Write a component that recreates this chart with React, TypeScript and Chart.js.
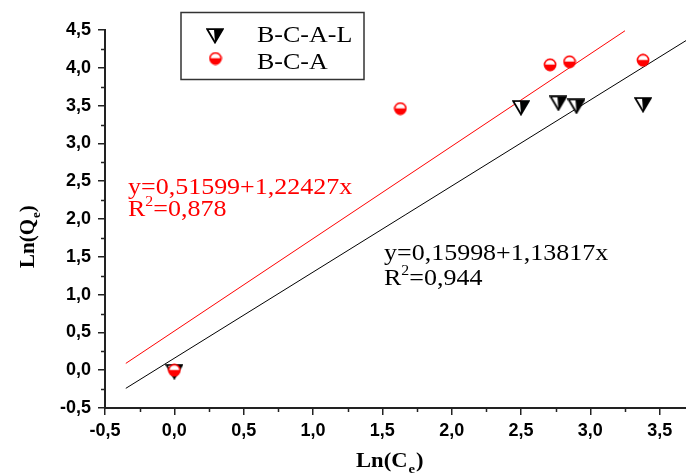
import React, { useEffect, useRef } from 'react';
import { Chart, registerables } from 'chart.js';

Chart.register(...registerables);

// ---- Data ----
const bcalX = [0, 2.5, 2.77, 2.9, 3.38];
const bcalY = [-0.02, 3.47, 3.53, 3.49, 3.51];
const bcaX = [0, 1.63, 2.71, 2.85, 3.38];
const bcaY = [0.0, 3.46, 4.04, 4.08, 4.1];
const fitBcaX = [-0.35, 3.25];
const fitBcaY = [0.09, 4.49];
const fitBcalX = [-0.35, 3.69];
const fitBcalY = [-0.24, 4.36];
const xTicks = [-0.5, 0, 0.5, 1, 1.5, 2, 2.5, 3, 3.5];
const yTicks = [-0.5, 0, 0.5, 1, 1.5, 2, 2.5, 3, 3.5, 4, 4.5];
const xMinor = [-0.25, 0.25, 0.75, 1.25, 1.75, 2.25, 2.75, 3.25];
const yMinor = [-0.25, 0.25, 0.75, 1.25, 1.75, 2.25, 2.75, 3.25, 3.75, 4.25];
const seriesNames = ['B-C-A-L', 'B-C-A'];
const fitRed = ['y=0,51599+1,22427x', '=0,878'];
const fitBlack = ['y=0,15998+1,13817x', '=0,944'];
const xTitle = ['Ln(C', 'e', ')'];
const yTitle = ['Ln(Q', 'e', ')'];

const SERIF = "'Liberation Serif', 'Times New Roman', serif";
const SX = 1.13;

function makeTriangle(): HTMLCanvasElement {
  const c = document.createElement('canvas');
  c.width = 18;
  c.height = 16;
  const ctx = c.getContext('2d')!;
  const l = 1.2, r = 16.8, t = 1.2, b = 14.5, m = 9;
  ctx.beginPath();
  ctx.moveTo(l, t); ctx.lineTo(r, t); ctx.lineTo(m, b); ctx.closePath();
  ctx.fillStyle = '#fff';
  ctx.fill();
  ctx.beginPath();
  ctx.moveTo(m - 1, t); ctx.lineTo(r, t); ctx.lineTo(m, b); ctx.closePath();
  ctx.fillStyle = '#000';
  ctx.fill();
  ctx.beginPath();
  ctx.moveTo(l, t); ctx.lineTo(r, t); ctx.lineTo(m, b); ctx.closePath();
  ctx.lineWidth = 1.8;
  ctx.lineJoin = 'miter';
  ctx.strokeStyle = '#000';
  ctx.stroke();
  return c;
}

function makeCircle(): HTMLCanvasElement {
  const c = document.createElement('canvas');
  c.width = 14;
  c.height = 14;
  const ctx = c.getContext('2d')!;
  const cx = 7, cy = 7, rr = 5.6;
  ctx.beginPath();
  ctx.arc(cx, cy, rr, 0, Math.PI * 2);
  ctx.fillStyle = '#fff';
  ctx.fill();
  ctx.beginPath();
  ctx.arc(cx, cy, rr, -0.05, Math.PI + 0.05);
  ctx.closePath();
  ctx.fillStyle = '#ff0000';
  ctx.fill();
  ctx.beginPath();
  ctx.arc(cx, cy, rr, 0, Math.PI * 2);
  ctx.lineWidth = 1.6;
  ctx.strokeStyle = '#ff0000';
  ctx.stroke();
  return c;
}

function stretchText(ctx: CanvasRenderingContext2D, text: string, x: number, y: number, font: string, color: string, sx: number): number {
  ctx.save();
  ctx.font = font;
  ctx.fillStyle = color;
  ctx.textAlign = 'left';
  ctx.textBaseline = 'alphabetic';
  ctx.translate(x, y);
  ctx.scale(sx, 1);
  ctx.fillText(text, 0, 0);
  const w = ctx.measureText(text).width * sx;
  ctx.restore();
  return w;
}

function drawEquation(ctx: CanvasRenderingContext2D, lines: string[], x: number, y1: number, y2: number, color: string) {
  const f = `23px ${SERIF}`;
  stretchText(ctx, lines[0], x, y1, f, color, SX);
  let cx = x;
  cx += stretchText(ctx, 'R', cx, y2, f, color, SX);
  cx += stretchText(ctx, '2', cx, y2 - 10, `14px ${SERIF}`, color, SX);
  stretchText(ctx, lines[1], cx, y2, f, color, SX);
}

export default function App() {
  const ref = useRef<HTMLCanvasElement>(null);

  useEffect(() => {
    const tri = makeTriangle();
    const circ = makeCircle();

    const overlay = {
      id: 'overlay',
      afterDraw(chart: any) {
        const ctx: CanvasRenderingContext2D = chart.ctx;
        const xs = chart.scales.x;
        const ys = chart.scales.y;
        // minor ticks
        ctx.save();
        ctx.strokeStyle = '#222';
        ctx.lineWidth = 1.5;
        ctx.beginPath();
        for (const v of xMinor) {
          const px = Math.round(xs.getPixelForValue(v)) + 0.5;
          ctx.moveTo(px, ys.bottom);
          ctx.lineTo(px, ys.bottom + 4);
        }
        for (const v of yMinor) {
          const py = Math.round(ys.getPixelForValue(v)) + 0.5;
          ctx.moveTo(xs.left, py);
          ctx.lineTo(xs.left - 4, py);
        }
        ctx.stroke();
        ctx.restore();

        // equations
        drawEquation(ctx, fitRed, 128, 194, 216, '#ff0000');
        drawEquation(ctx, fitBlack, 384, 260, 285, '#000000');

        // legend
        ctx.save();
        ctx.strokeStyle = '#333';
        ctx.lineWidth = 1.5;
        ctx.strokeRect(181, 12.5, 183, 67);
        ctx.restore();
        ctx.drawImage(tri, 215 - tri.width / 2, 36 - tri.height / 2);
        ctx.drawImage(circ, 215.5 - circ.width / 2, 58.5 - circ.height / 2);
        stretchText(ctx, seriesNames[0], 257, 42, `23px ${SERIF}`, '#000', SX);
        stretchText(ctx, seriesNames[1], 257, 69, `23px ${SERIF}`, '#000', SX);

        // x title
        const bf = `bold 20px ${SERIF}`;
        let cx = 356;
        cx += stretchText(ctx, xTitle[0], cx, 467, bf, '#000', SX);
        cx += stretchText(ctx, xTitle[1], cx + 1, 473, `bold 13px ${SERIF}`, '#000', SX);
        stretchText(ctx, xTitle[2], cx + 2, 467, bf, '#000', SX);

        // y title (rotated)
        ctx.save();
        ctx.translate(34, 268);
        ctx.rotate(-Math.PI / 2);
        ctx.fillStyle = '#000';
        ctx.textBaseline = 'alphabetic';
        ctx.textAlign = 'left';
        ctx.font = `bold 21px ${SERIF}`;
        ctx.fillText(yTitle[0], 0, 0);
        let w = ctx.measureText(yTitle[0]).width;
        ctx.font = `bold 13px ${SERIF}`;
        ctx.fillText(yTitle[1], w + 1, 6);
        w += ctx.measureText(yTitle[1]).width + 1;
        ctx.font = `bold 21px ${SERIF}`;
        ctx.fillText(yTitle[2], w, 0);
        ctx.restore();
      },
    };

    const tickFont = { family: "'Liberation Sans', Arial, sans-serif", size: 18, weight: 'bold' as const };
    const fmt = (v: any) => Number(v).toFixed(1).replace('.', ',');

    const chart = new Chart(ref.current!, {
      type: 'scatter',
      data: {
        datasets: [
          {
            label: seriesNames[1],
            data: bcaX.map((x, i) => ({ x, y: bcaY[i] })),
            pointStyle: circ as any,
            pointRadius: 7,
            order: 0,
          },
          {
            label: seriesNames[0],
            data: bcalX.map((x, i) => ({ x, y: bcalY[i] })),
            pointStyle: tri as any,
            pointRadius: 7,
            order: 1,
          },
          {
            label: 'fitBCA',
            data: fitBcaX.map((x, i) => ({ x, y: fitBcaY[i] })),
            showLine: true,
            borderColor: '#ff0000',
            borderWidth: 1,
            pointRadius: 0,
            order: 2,
          },
          {
            label: 'fitBCAL',
            data: fitBcalX.map((x, i) => ({ x, y: fitBcalY[i] })),
            showLine: true,
            borderColor: '#000000',
            borderWidth: 1,
            pointRadius: 0,
            order: 3,
          },
        ],
      },
      options: {
        responsive: false,
        animation: false,
        devicePixelRatio: 1,
        layout: { autoPadding: false, padding: { top: 30, right: 0, left: 0, bottom: 0 } },
        plugins: { legend: { display: false }, tooltip: { enabled: false } },
        scales: {
          x: {
            type: 'linear',
            min: -0.5,
            max: 3.69,
            afterBuildTicks: (s: any) => { s.ticks = xTicks.map((v) => ({ value: v })); },
            afterFit: (s: any) => { s.height = 67; s.paddingLeft = 0; s.paddingRight = 0; },
            ticks: { color: '#000', font: tickFont, padding: 5, maxRotation: 0, autoSkip: false, callback: fmt },
            grid: { display: true, drawOnChartArea: false, drawTicks: true, tickLength: 7, color: '#222', lineWidth: 1.5 },
            border: { display: true, color: '#222', width: 2 },
          },
          y: {
            type: 'linear',
            min: -0.5,
            max: 4.5,
            afterBuildTicks: (s: any) => { s.ticks = yTicks.map((v) => ({ value: v })); },
            afterFit: (s: any) => { s.width = 105; s.paddingTop = 0; s.paddingBottom = 0; },
            ticks: { color: '#000', font: tickFont, padding: 7, autoSkip: false, callback: fmt },
            grid: { display: true, drawOnChartArea: false, drawTicks: true, tickLength: 7, color: '#222', lineWidth: 1.5 },
            border: { display: true, color: '#222', width: 2 },
          },
        },
      },
      plugins: [overlay],
    });
    return () => chart.destroy();
  }, []);

  return (
    <div style={{ position: 'fixed', left: 0, top: 0, width: 686, height: 475, background: '#fff' }}>
      <canvas ref={ref} width={686} height={475} />
    </div>
  );
}
